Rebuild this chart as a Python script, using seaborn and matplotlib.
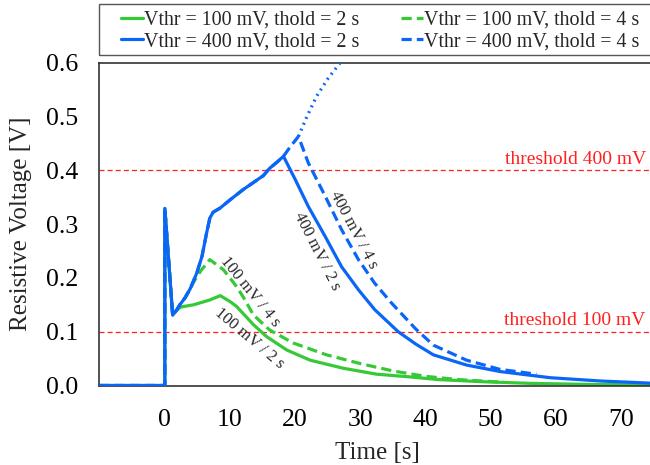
import numpy as np
import pandas as pd
import seaborn as sns
import matplotlib
matplotlib.use("Agg")
import matplotlib.pyplot as plt
from matplotlib.patches import Rectangle

# ---- data: resistive voltage traces [s], [V] ----
# shared start: zero before the quench, spike at t = 0, then the common rise
t_common = [-10.1, 0.0, 0.0, 1.2, 1.8]
v_common = [0.0, 0.0, 0.329, 0.131, 0.140]

# Vthr = 100 mV, thold = 2 s
t_g2 = t_common + [2.5, 4.4, 6.9, 8.5, 10.0, 11.0, 13.6, 15.6, 18.7, 22.3, 27.4,
                   32.5, 37.6, 42.0, 48.8, 56.0, 65.0, 75.2]
v_g2 = v_common + [0.146, 0.150, 0.159, 0.167, 0.156, 0.147, 0.113, 0.091, 0.066,
                   0.047, 0.032, 0.021, 0.016, 0.011, 0.007, 0.004, 0.002, 0.001]

# Vthr = 100 mV, thold = 4 s
t_g4 = t_common + [2.3, 3.1, 3.9, 4.4, 5.5, 6.9, 9.0, 11.0, 12.0, 13.6, 16.1, 19.7,
                   24.8, 29.9, 35.0, 40.0, 45.0, 52.0]
v_g4 = v_common + [0.150, 0.163, 0.180, 0.192, 0.213, 0.234, 0.215, 0.184, 0.165,
                   0.131, 0.103, 0.079, 0.057, 0.041, 0.027, 0.017, 0.011, 0.006]

# Vthr = 400 mV rise (shared by both hold times)
t_b_rise = [2.3, 3.1, 3.9, 4.9, 5.7, 6.4, 6.9, 7.4, 8.5, 10.0, 12.0, 15.1, 16.1,
            17.2, 18.2]
v_b_rise = [0.150, 0.163, 0.180, 0.209, 0.240, 0.283, 0.311, 0.322, 0.330, 0.345,
            0.364, 0.390, 0.404, 0.415, 0.426]

# Vthr = 400 mV, thold = 2 s
t_b2 = t_common + t_b_rise + [20.0, 22.0, 24.6, 27.1, 29.7, 32.2, 35.8, 38.5, 41.2,
                              46.3, 51.4, 59.1, 66.8, 75.2]
v_b2 = v_common + v_b_rise + [0.383, 0.333, 0.277, 0.221, 0.178, 0.141, 0.100, 0.077,
                              0.057, 0.038, 0.026, 0.0145, 0.0084, 0.004]

# Vthr = 400 mV, thold = 4 s
t_b4 = t_common + t_b_rise + [19.2, 20.5, 22.0, 24.6, 27.1, 29.7, 32.2, 34.8, 38.5,
                              41.2, 46.3, 51.4, 57.0]
v_b4 = v_common + v_b_rise + [0.443, 0.463, 0.414, 0.352, 0.290, 0.234, 0.190, 0.153,
                              0.105, 0.075, 0.047, 0.030, 0.021]

# unprotected continuation of the 400 mV rise
t_free = [20.5, 21.8, 23.3, 25.0, 26.9, 28.0]
v_free = [0.463, 0.500, 0.538, 0.570, 0.600, 0.620]

thresholds = [0.1, 0.4]
threshold_labels = ["threshold 100 mV", "threshold 400 mV"]
legend_labels = ["Vthr = 100 mV, thold = 2 s", "Vthr = 400 mV, thold = 2 s",
                 "Vthr = 100 mV, thold = 4 s", "Vthr = 400 mV, thold = 4 s"]
yticks = [0.0, 0.1, 0.2, 0.3, 0.4, 0.5, 0.6]
xticks = [0, 10, 20, 30, 40, 50, 60, 70]

# ---- style ----
sns.set_theme(style="white")
plt.rcParams["font.family"] = ["Liberation Serif", "DejaVu Serif"]

GREEN = "#36c936"
BLUE = "#0a66f7"
LW = 2.3

fig = plt.figure(figsize=(6.5, 4.65), dpi=100)
W, H = 650, 465
ax = fig.add_axes([99 / W, 1 - 385.5 / H, 556 / W, (385.5 - 62.7) / H])

def trace(t, v, color, ls, label=None, z=2):
    df = pd.DataFrame({"t": t, "v": v})
    sns.lineplot(data=df, x="t", y="v", ax=ax, color=color, linestyle=ls,
                 linewidth=LW, sort=False, estimator=None, label=label,
                 legend=False, zorder=z)
    line = ax.lines[-1]
    line.set_solid_joinstyle("round")
    line.set_dash_joinstyle("round")
    return line

h_g2 = trace(t_g2, v_g2, GREEN, "-", legend_labels[0], 2)
h_g4 = trace(t_g4, v_g4, GREEN, (0, (3.2, 1.6)), legend_labels[2], 3)
h_b2 = trace(t_b2, v_b2, BLUE, "-", legend_labels[1], 4)
h_b4 = trace(t_b4, v_b4, BLUE, (0, (3.2, 1.6)), legend_labels[3], 5)
trace(t_free, v_free, BLUE, (0, (0.6, 1.4)), None, 5)

# protection thresholds
for thr, lab in zip(thresholds, threshold_labels):
    ax.axhline(thr, color="#ff2020", lw=0.9, ls=(0, (4, 2.5)), zorder=1)
    ax.text(73.8, thr + 0.005, lab, color="#ff2020", fontsize=14,
            ha="right", va="bottom")

# curve tags
tag_kw = dict(fontsize=12, ha="center", va="center", rotation_mode="anchor")
ax.text(13.0, 0.174, "100 mV / 4 s", rotation=-51, **tag_kw)
ax.text(13.0, 0.088, "100 mV / 2 s", rotation=-40, **tag_kw)
ax.text(23.3, 0.249, "400 mV / 2 s", rotation=-63, **tag_kw)
ax.text(28.9, 0.290, "400 mV / 4 s", rotation=-62, **tag_kw)

ax.set_xlim(-10.1, 75.2)
ax.set_ylim(0, 0.6)
ax.set_xticks(xticks)
ax.set_yticks(yticks)
ax.set_yticklabels([f"{y:.1f}" for y in yticks])
ax.tick_params(direction="in", length=6, width=1, colors="#333333",
               labelcolor="black", labelsize=18.5)
ax.tick_params(axis="x", pad=17)
ax.tick_params(axis="y", pad=15)
for s in ax.spines.values():
    s.set_color("#333333")
    s.set_linewidth(1.2)
ax.set_xlabel("Time [s]", fontsize=18, labelpad=8)
ax.set_ylabel("Resistive Voltage [V]", fontsize=18, labelpad=10)

leg = fig.legend(handles=[h_g2, h_b2, h_g4, h_b4], labels=legend_labels, ncol=2,
                 loc="upper left", bbox_to_anchor=(121 / W, 1 - 11 / H),
                 frameon=False, fontsize=14.4, handlelength=1.1,
                 handletextpad=0.05, columnspacing=2.1, labelspacing=0.12,
                 borderpad=0, borderaxespad=0)
fig.patches.append(Rectangle((99 / W, 1 - 55 / H), 565 / W, 51 / H,
                             transform=fig.transFigure, fill=False,
                             edgecolor="#555555", lw=1.0))

fig.savefig("out.png", dpi=100)
